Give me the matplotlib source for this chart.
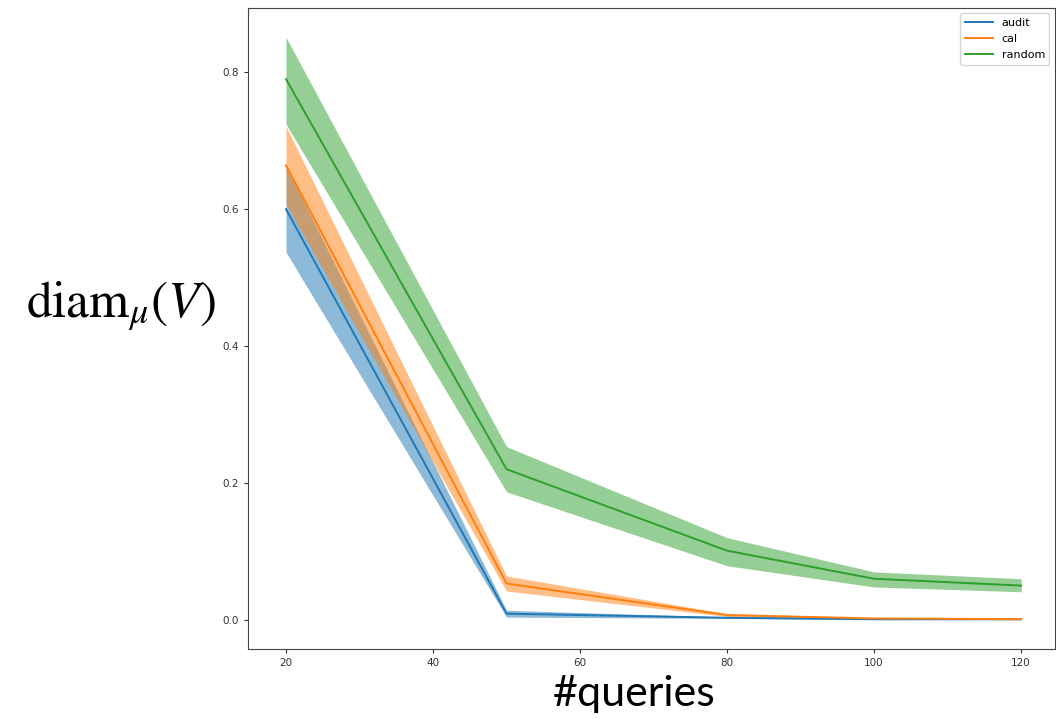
import numpy as np
import matplotlib.pyplot as plt

# values
queries = [20, 50, 80, 100, 120]

audit_mean = [0.600, 0.009, 0.003, 0.001, 0.001]
audit_lo = [0.537, 0.004, 0.002, 0.000, 0.000]
audit_hi = [0.663, 0.014, 0.004, 0.002, 0.002]

cal_mean = [0.664, 0.053, 0.007, 0.002, 0.001]
cal_lo = [0.607, 0.042, 0.005, 0.001, 0.000]
cal_hi = [0.721, 0.064, 0.009, 0.003, 0.002]

random_mean = [0.790, 0.220, 0.101, 0.060, 0.050]
random_lo = [0.724, 0.187, 0.079, 0.048, 0.041]
random_hi = [0.851, 0.253, 0.120, 0.070, 0.060]

series = [
    ("audit", audit_mean, audit_lo, audit_hi, "tab:blue"),
    ("cal", cal_mean, cal_lo, cal_hi, "tab:orange"),
    ("random", random_mean, random_lo, random_hi, "tab:green"),
]

plt.rcParams["mathtext.fontset"] = "stix"

fig = plt.figure(figsize=(10.56, 7.19), dpi=100)
ax = fig.add_axes([0.235, 0.097, 0.764, 0.892])

for label, mean, lo, hi, color in series:
    ax.plot(queries, mean, color=color, lw=1.4, label=label)
    ax.fill_between(queries, lo, hi, color=color, alpha=0.5, lw=0)

ax.set_xlim(14.85, 124.6)
ax.set_ylim(-0.043, 0.894)
ax.set_xticks([20, 40, 60, 80, 100, 120])
ax.set_yticks([0.0, 0.2, 0.4, 0.6, 0.8])
ax.tick_params(labelsize=7.5, length=3, colors="#333333")
for sp in ax.spines.values():
    sp.set_color("#444444")

ax.legend(loc="upper right", fontsize=8, handlelength=2.5, labelspacing=0.55)

fig.text(0.115, 0.574, r"$\mathrm{diam}_{\mu}(V)$", fontsize=37,
         ha="center", va="center")
fig.text(0.601, 0.035, "#queries", fontsize=31, family="Lato",
         ha="center", va="center")

fig.savefig("out.png", dpi=100)
